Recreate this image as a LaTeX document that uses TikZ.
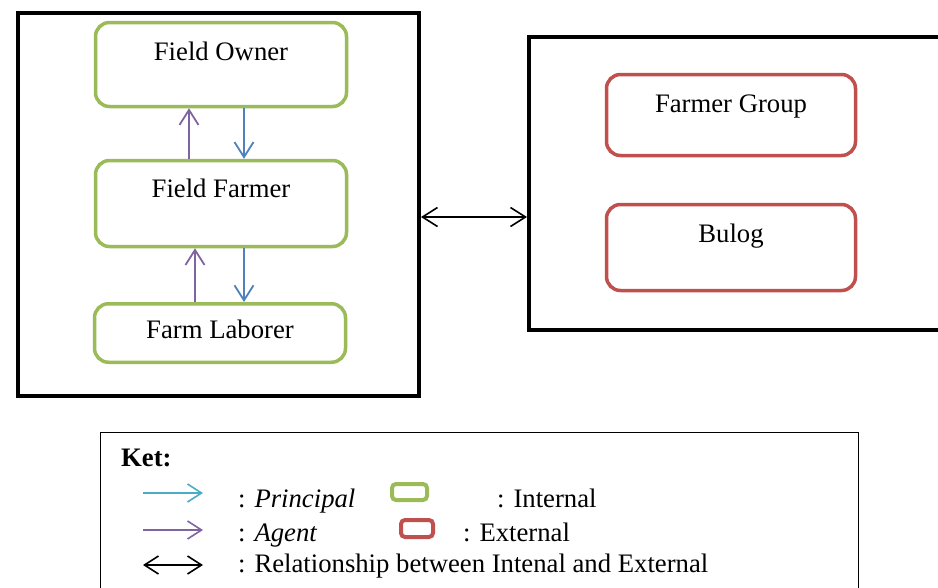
\documentclass[tikz,border=0pt]{standalone}
\usepackage{fontspec}
\setmainfont{Liberation Serif}
\usetikzlibrary{arrows.meta}
\definecolor{igreen}{HTML}{9BBB59}
\definecolor{ered}{HTML}{C0504D}
\definecolor{pblue}{HTML}{4F81BD}
\definecolor{apurple}{HTML}{8064A2}
\definecolor{kcyan}{HTML}{4BACC6}
\begin{document}
\begin{tikzpicture}[x=1pt,y=-1pt,
  every node/.style={font=\fontsize{26.7}{30}\selectfont, inner sep=0pt},
  frame/.style={draw=black, line width=4pt, rectangle},
  intbox/.style={draw=igreen, line width=3.5pt, rounded corners=14pt, minimum width=251pt},
  extbox/.style={draw=ered, line width=3.5pt, rounded corners=14pt, minimum width=249pt},
  ltext/.style={anchor=base, yshift=#1},
  tip/.style={-{Straight Barb[length=15pt,width=19pt]}, line width=1.8pt},
  principal/.style={tip, draw=pblue},
  agent/.style={tip, draw=apurple},
  relarrow/.style={{Straight Barb[length=15pt,width=19pt]}-{Straight Barb[length=15pt,width=19pt]}, line width=1.6pt, draw=black},
  keytip/.style={-{Straight Barb[length=14pt,width=18pt]}, line width=1.6pt},
  keybox/.style={line width=4pt, rounded corners=4pt, inner sep=0pt}
]
\clip (0,0) rectangle (938,587);
\fill[white] (0,0) rectangle (938,587);

% frames
\node[frame, minimum width=401pt, minimum height=383pt] (lb) at (218.5,204.5) {};
\node[frame, minimum width=431pt, minimum height=293pt] (rb) at (744.5,183.5) {};

% internal boxes
\node[intbox, minimum height=84pt, label={[ltext=-39.5pt]north:Field Owner}] (fo) at (221,64.5) {};
\node[intbox, minimum height=86pt, label={[ltext=-38.5pt]north:Field Farmer}] (ff) at (221,203.5) {};
\node[intbox, minimum height=58.5pt, label={[ltext=-36pt]north:Farm Laborer}] (fl) at (220,333) {};

% external boxes
\node[extbox, minimum height=81pt, label={[ltext=-39.5pt]north:Farmer Group}] (fg) at (731,115) {};
\node[extbox, minimum height=86pt, label={[ltext=-39.5pt]north:Bulog}] (bu) at (731,247.5) {};

% arrows inside
\draw[agent] ([xshift=-32pt]ff.north) -- ([xshift=-32pt]fo.south);
\draw[principal] ([xshift=23pt]fo.south) -- ([xshift=23pt]ff.north);
\draw[agent] ([xshift=-25pt]fl.north) -- ([xshift=-26pt]ff.south);
\draw[principal] ([xshift=23pt]ff.south) -- ([xshift=24pt]fl.north);

% relationship arrow
\draw[relarrow] ([yshift=-12.5pt]lb.east) -- ([yshift=-12.5pt]lb.east -| rb.west);

% legend
\draw[line width=1pt] (100,600) -- (100,432) -- (858,432) -- (858,600);
\node[anchor=base west, font=\fontsize{26.7}{30}\selectfont\bfseries] (ket) at (121,466) {Ket:};

\coordinate (k1a) at (143,493); \coordinate (k1b) at (203,493);
\coordinate (k2a) at (143,530); \coordinate (k2b) at (203,530);
\coordinate (k3a) at (143,565); \coordinate (k3b) at (203,565);
\draw[keytip, draw=kcyan] (k1a) -- (k1b);
\draw[keytip, draw=apurple] (k2a) -- (k2b);
\draw[{Straight Barb[length=14pt,width=18pt]}-{Straight Barb[length=14pt,width=18pt]}, line width=1.6pt] (k3a) -- (k3b);

\node[anchor=base west] (tp) at (238,507) {: \textit{Principal}};
\node[anchor=base west] (ta) at (238,541) {: \textit{Agent}};
\node[anchor=base west] (tr) at (238,572) {: Relationship between Intenal and External};

\node[keybox, draw=igreen, minimum width=35pt, minimum height=16pt] (kg) at (409.5,492) {};
\node[keybox, draw=ered, minimum width=32pt, minimum height=17pt] (kr) at (417,528.5) {};
\node[anchor=base west] (ti) at (497,507) {: Internal};
\node[anchor=base west] (te) at (463,541) {: External};
\end{tikzpicture}
\end{document}
